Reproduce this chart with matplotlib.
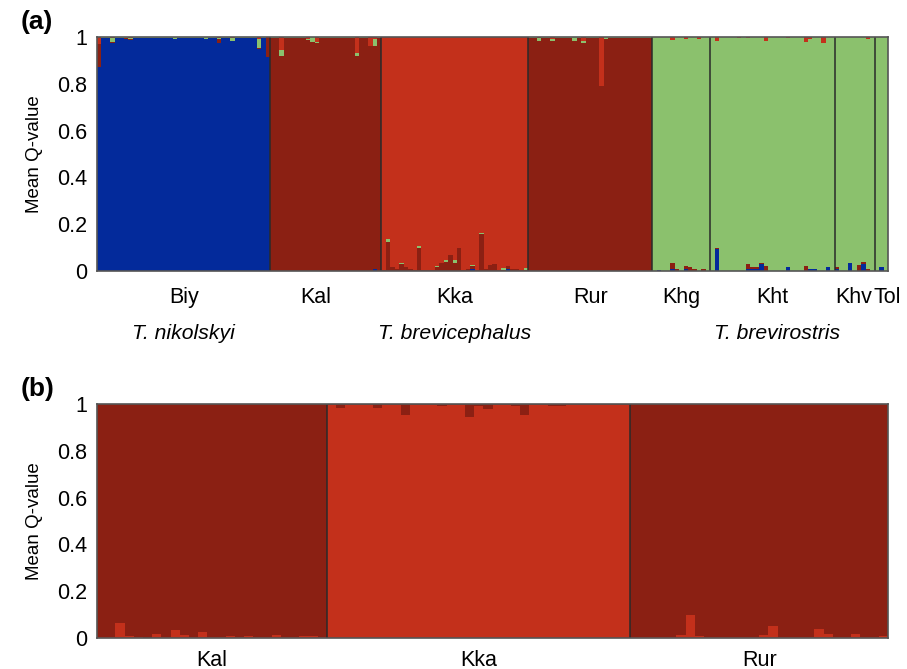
import numpy as np
import matplotlib.pyplot as plt

plt.rcParams['font.family'] = ['Liberation Sans', 'DejaVu Sans']

# colours of the clusters
c_blue = '#032A9B'
c_dred = '#8B2013'
c_red = '#C3301B'
c_green = '#8BC16D'

# ---------- panel (a), K = 4 ----------
pops_a = ['Biy', 'Kal', 'Kka', 'Rur', 'Khg', 'Kht', 'Khv', 'Tol']
main_a = ['blue', 'dred', 'red', 'dred', 'green', 'green', 'green', 'green']
species = ['T. nikolskyi', 'T. brevicephalus', 'T. brevirostris']

# minor components per individual (the main cluster takes the rest)
biy_blue = [0]*39
biy_dred = [0.10, 0, 0, 0.005, 0, 0, 0.005, 0.005, 0, 0, 0, 0, 0, 0, 0, 0, 0, 0, 0, 0,
            0, 0, 0, 0, 0, 0, 0, 0.015, 0, 0, 0, 0, 0, 0, 0, 0, 0.005, 0, 0.08]
biy_green = [0, 0.004, 0.004, 0.015, 0.005, 0.004, 0.003, 0.003, 0.004, 0.004, 0.004, 0.003, 0.003,
             0.004, 0.003, 0.003, 0.004, 0.01, 0.005, 0.003, 0.003, 0.004, 0.003, 0.003, 0.01,
             0.004, 0.003, 0.005, 0.004, 0.003, 0.01, 0.003, 0.003, 0.004, 0.003, 0.005, 0.035, 0.004, 0]
biy_red = [0.03, 0, 0, 0.005, 0, 0, 0, 0.005, 0, 0, 0, 0, 0, 0, 0, 0, 0, 0, 0, 0,
           0, 0, 0, 0, 0, 0, 0, 0.005, 0, 0, 0.005, 0, 0, 0, 0, 0, 0.01, 0, 0.005]

kal_blue = [0]*23 + [0.01, 0]
kal_dred = [0]*25
kal_green = [0.004, 0.004, 0.026, 0.004, 0.005, 0.005, 0.004, 0.004, 0.004, 0.02, 0.005, 0.004, 0.004,
             0.005, 0.004, 0.004, 0.004, 0.004, 0.004, 0.01, 0.004, 0.004, 0, 0.03, 0.004]
kal_red = [0, 0, 0.056, 0, 0, 0, 0, 0, 0.01, 0, 0.022, 0, 0, 0, 0, 0, 0, 0, 0, 0.07,
           0, 0, 0.04, 0.01, 0]

kka_blue = [0]*20 + [0.01] + [0]*7 + [0.01] + [0]*4
kka_dred = [0.003, 0.125, 0.015, 0.01, 0.03, 0.017, 0.01, 0.003, 0.10, 0.005, 0.005, 0.005, 0.015,
            0.035, 0.04, 0.07, 0.035, 0.10, 0.005, 0.008, 0.01, 0.004, 0.16, 0.008,
            0.025, 0.03, 0.005, 0.003, 0.01, 0.01, 0.008, 0.005, 0.004]
kka_green = [0, 0.013, 0, 0, 0.005, 0, 0, 0, 0.008, 0, 0, 0, 0.008, 0, 0.005, 0, 0.01, 0, 0, 0,
             0.005, 0, 0.004, 0, 0, 0, 0, 0.01, 0, 0, 0, 0, 0.01]
kka_red = [0]*33

rur_blue = [0]*28
rur_dred = [0]*28
rur_green = [0.003, 0.004, 0.01, 0.003, 0.003, 0.005, 0.003, 0.003, 0.003, 0.003, 0.015, 0.003,
             0.01, 0.003, 0.003, 0.003, 0, 0.01, 0.003, 0.003, 0.003, 0.003, 0.003, 0.003,
             0.003, 0.003, 0.003, 0.003]
rur_red = [0, 0, 0.005, 0, 0, 0.01, 0, 0, 0, 0, 0, 0, 0.015, 0, 0, 0, 0.21, 0, 0, 0,
           0, 0, 0, 0, 0, 0, 0, 0]

khg_blue = [0, 0.006, 0, 0, 0.009, 0, 0, 0.01, 0, 0, 0, 0, 0]
khg_dred = [0, 0, 0, 0, 0.024, 0.008, 0, 0.012, 0.015, 0.01, 0, 0.01, 0]
khg_red = [0, 0, 0, 0, 0.012, 0, 0, 0.008, 0, 0, 0.01, 0, 0]
khg_green = [0]*13

kht_blue = [0, 0.095, 0, 0, 0, 0, 0, 0, 0.008, 0.01, 0.01, 0.03, 0, 0, 0, 0, 0, 0.015, 0, 0,
            0, 0, 0.01, 0.01, 0, 0, 0.015, 0]
kht_dred = [0, 0.005, 0, 0, 0, 0, 0, 0, 0.02, 0.008, 0.008, 0.005, 0.02, 0, 0, 0, 0, 0, 0, 0,
            0, 0.02, 0, 0, 0, 0, 0, 0]
kht_red = [0, 0.015, 0, 0, 0, 0, 0.005, 0, 0.005, 0, 0, 0, 0.015, 0, 0, 0, 0, 0.005, 0, 0,
           0, 0.02, 0.01, 0, 0, 0.025, 0, 0]
kht_green = [0]*28

khv_blue = [0.01, 0, 0, 0.035, 0, 0, 0.03, 0, 0]
khv_dred = [0.005, 0, 0, 0, 0, 0.025, 0.01, 0.01, 0]
khv_red = [0, 0, 0, 0, 0, 0, 0, 0.01, 0]
khv_green = [0]*9

tol_blue = [0, 0.015, 0]
tol_dred = [0, 0, 0]
tol_red = [0, 0, 0]
tol_green = [0]*3

# ---------- panel (b), K = 2 ----------
pops_b = ['Kal', 'Kka', 'Rur']
kal_b_red = [0.003, 0.005, 0.065, 0.01, 0.003, 0, 0.017, 0.005, 0.035, 0.013, 0.005, 0.025, 0.003,
             0.003, 0.01, 0.005, 0.01, 0.003, 0.003, 0.012, 0.003, 0.003, 0.008, 0.008, 0.003]
kka_b_dred = [0.003, 0.015, 0.005, 0.005, 0.003, 0.017, 0.005, 0.003, 0.045, 0.005, 0.003, 0.003,
              0.008, 0.005, 0.005, 0.055, 0.01, 0.02, 0.003, 0.003, 0.01, 0.045, 0.003, 0.003,
              0.008, 0.008, 0.003, 0.003, 0.003, 0.005, 0.005, 0.003, 0.003]
rur_b_red = [0.005, 0.003, 0.005, 0.003, 0.003, 0.013, 0.10, 0.01, 0.003, 0.005, 0.003, 0.005,
             0.005, 0.005, 0.013, 0.05, 0.005, 0.005, 0.003, 0.003, 0.04, 0.015, 0.005, 0.005,
             0.015, 0.003, 0.005, 0.008]

# assemble panel (a): order of stacking from bottom is blue, dark red, green, red
minor_a = [
    (biy_blue, biy_dred, biy_green, biy_red),
    (kal_blue, kal_dred, kal_green, kal_red),
    (kka_blue, kka_dred, kka_green, kka_red),
    (rur_blue, rur_dred, rur_green, rur_red),
    (khg_blue, khg_dred, khg_green, khg_red),
    (kht_blue, kht_dred, kht_green, kht_red),
    (khv_blue, khv_dred, khv_green, khv_red),
    (tol_blue, tol_dred, tol_green, tol_red),
]
keys = ['blue', 'dred', 'green', 'red']
Q = {k: [] for k in keys}
sizes_a = []
for (b, d, g, r), m in zip(minor_a, main_a):
    comp = {'blue': np.array(b, float), 'dred': np.array(d, float),
            'green': np.array(g, float), 'red': np.array(r, float)}
    rest = 1 - sum(v for k, v in comp.items() if k != m)
    comp[m] = rest
    for k in keys:
        Q[k].append(comp[k])
    sizes_a.append(len(b))
for k in keys:
    Q[k] = np.concatenate(Q[k])
n_a = sum(sizes_a)

# panel (b): red at bottom, dark red on top
red_b = np.concatenate([kal_b_red, 1 - np.array(kka_b_dred), rur_b_red])
dred_b = 1 - red_b
sizes_b = [len(kal_b_red), len(kka_b_dred), len(rur_b_red)]
n_b = sum(sizes_b)

fig = plt.figure(figsize=(9.07, 6.69), dpi=100)
ax1 = fig.add_axes([97/907, 1-271/669, 791/907, 234/669])
ax2 = fig.add_axes([97/907, 1-638/669, 791/907, 234/669])

cols = {'blue': c_blue, 'dred': c_dred, 'green': c_green, 'red': c_red}
x = np.arange(n_a)
bottom = np.zeros(n_a)
for k in keys:
    ax1.bar(x, Q[k], width=1.0, bottom=bottom, align='edge', color=cols[k], linewidth=0)
    bottom += Q[k]

xb = np.arange(n_b)
ax2.bar(xb, red_b, width=1.0, align='edge', color=c_red, linewidth=0)
ax2.bar(xb, dred_b, width=1.0, bottom=red_b, align='edge', color=c_dred, linewidth=0)

def style(ax, n, sizes):
    ax.set_xlim(0, n)
    ax.set_ylim(0, 1)
    ax.set_xticks([])
    ax.set_yticks([0, 0.2, 0.4, 0.6, 0.8, 1])
    ax.set_yticklabels(['0', '0.2', '0.4', '0.6', '0.8', '1'])
    ax.tick_params(axis='y', length=0, pad=7, labelsize=15.5)
    ax.set_ylabel('Mean Q-value', fontsize=13.5, labelpad=10)
    for s in ax.spines.values():
        s.set_color('#555555')
        s.set_linewidth(1.2)
    edges = np.cumsum(sizes)[:-1]
    for e in edges:
        ax.axvline(e, color='#2a2a2a', lw=1.1)
    starts = np.concatenate([[0], np.cumsum(sizes)[:-1]])
    return starts + np.array(sizes) / 2

cent_a = style(ax1, n_a, sizes_a)
cent_b = style(ax2, n_b, sizes_b)

lab_shift = [0, -2.3, 0, 0, 0, 0, -0.3, 1.4]
for p, c, s in zip(pops_a, cent_a, lab_shift):
    ax1.annotate(p, xy=(c + s, 0), xycoords=('data', 'axes fraction'), xytext=(0, -19),
                 textcoords='offset points', ha='center', va='center', fontsize=15.5)
sp_shift = [0, 0, 1.0]
for sp, c, s in zip(species, [cent_a[0], cent_a[2], cent_a[5]], sp_shift):
    ax1.annotate(sp, xy=(c + s, 0), xycoords=('data', 'axes fraction'), xytext=(0, -45),
                 textcoords='offset points', ha='center', va='center', fontsize=15.2, style='italic')
for p, c in zip(pops_b, cent_b):
    ax2.annotate(p, xy=(c, 0), xycoords=('data', 'axes fraction'), xytext=(0, -16),
                 textcoords='offset points', ha='center', va='center', fontsize=15.5)

fig.text(21/907, 1-22/669, '(a)', fontsize=19, fontweight='bold', va='center')
fig.text(21/907, 1-389/669, '(b)', fontsize=19, fontweight='bold', va='center')

fig.savefig('out.png', dpi=100)
